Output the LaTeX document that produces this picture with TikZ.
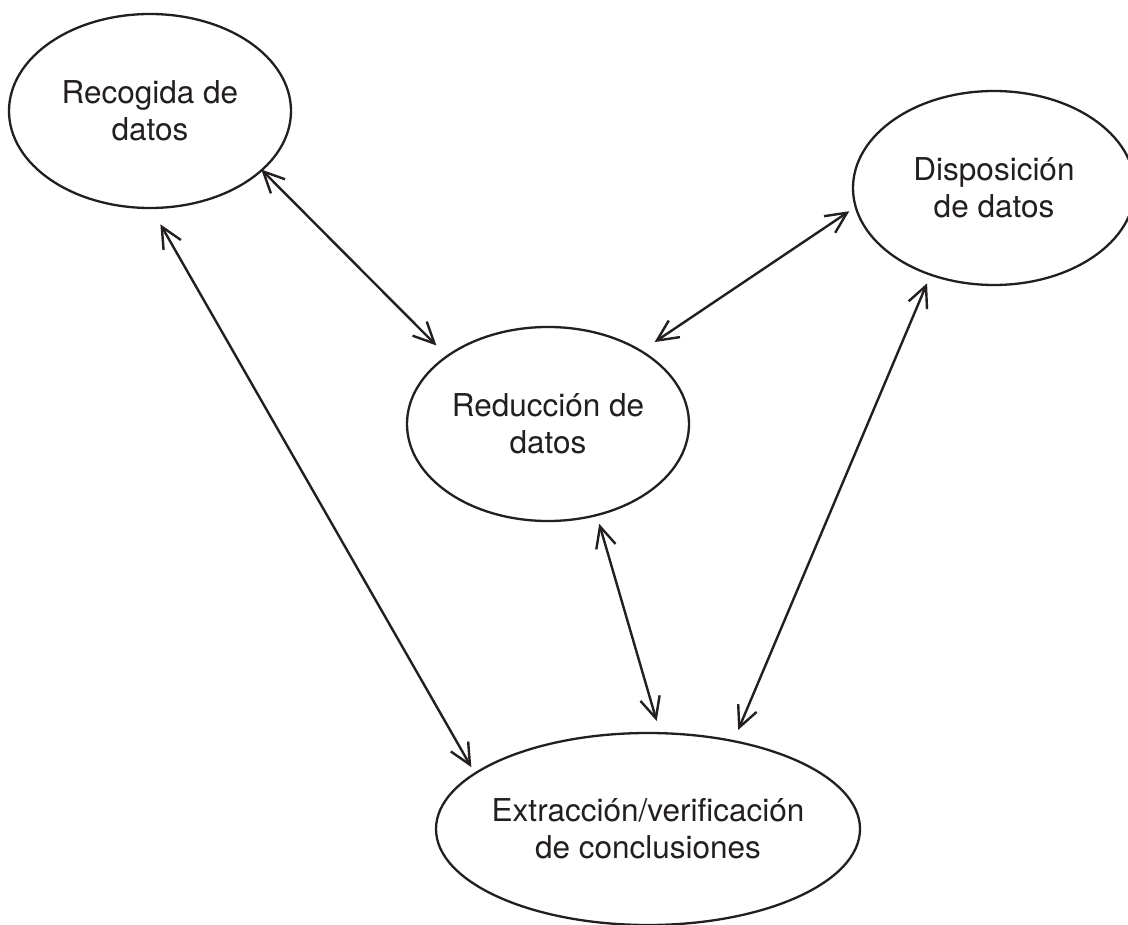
\documentclass[tikz,border=0pt]{standalone}
\usepackage{fontspec}
\setmainfont{TeX Gyre Heros}
\usetikzlibrary{shapes.geometric,arrows.meta}
\definecolor{ink}{HTML}{231F20}
\begin{document}
\begin{tikzpicture}[x=1pt,y=-1pt,
  bubble/.style={draw=ink, line width=2.3pt, ellipse, inner sep=0pt, align=center,
    text=ink, font=\fontsize{31.5}{37}\selectfont},
  small/.style={minimum width=282pt, minimum height=194pt},
  barb/.tip={Straight Barb[length=21pt,width=20pt,line join=miter]},
  link/.style={draw=ink, line width=2.4pt, barb-barb}]
\useasboundingbox (0,0) rectangle (1128,925);
\fill[white] (0,0) rectangle (1128,925);
\node[bubble, small] (rec) at (150,111) {Recogida de\\datos};
\node[bubble, small] (dis) at (994,188) {Disposición\\de datos};
\node[bubble, small] (red) at (548,424) {Reducción de\\datos};
\node[bubble, minimum width=424pt, minimum height=192pt, inner xsep=-25pt] (ext) at (648,829) {Extracción/verificación\\de conclusiones};
\draw[link, shorten <=-2pt, shorten >=14pt] (rec.-28.4) -- (red.146.7);
\draw[link, shorten <=6.5pt, shorten >=15pt] (dis.188.9) -- (red.38.9);
\draw[link, shorten <=17.5pt, shorten >=6.3pt] (rec.-89.8) -- (ext.162.2);
\draw[link, shorten <=8pt, shorten >=11.5pt] (red.-62.4) -- (ext.83.3);
\draw[link, shorten <=8.2pt, shorten >=11pt] (dis.-126.5) -- (ext.46.3);
\end{tikzpicture}
\end{document}
